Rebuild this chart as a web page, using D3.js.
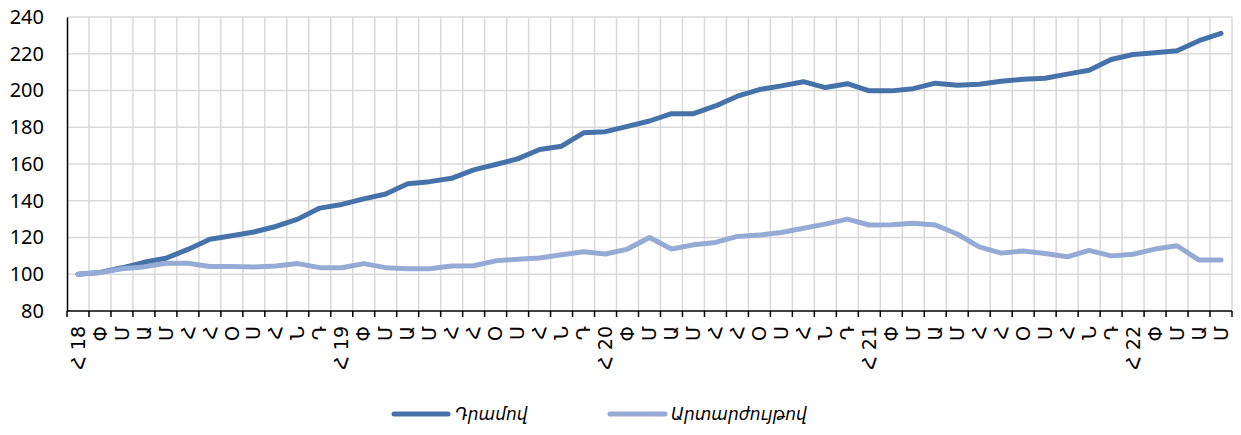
<!DOCTYPE html>
<html><head><meta charset="utf-8">
<script src="https://cdn.jsdelivr.net/npm/d3@7"></script>
<style>body{margin:0;background:#fff}svg{display:block}</style>
</head><body><svg id="c" width="1241" height="435"></svg>
<script>
const monthAbbr = ["Հ","Փ","Մ","Ա","Մ","Հ","Հ","Օ","Ս","Հ","Ն","Դ"];
const years = ["18","19","20","21","22"];
const nPoints = 53;
const seriesNames = ["Դրամով","Արտարժույթով"];
const dramValues = [100,101,103.5,106.5,108.7,113.5,119,121,123,126,130,136,138,141,143.7,149.3,
  150.4,152.2,156.8,159.7,162.8,167.9,169.7,177,177.6,180.5,183.4,187.4,187.4,191.6,196.9,200.5,202.5,204.8,
  201.6,203.7,199.8,199.8,201,204,202.9,203.4,205,206.1,206.7,208.9,211,216.9,219.6,220.5,221.6,227.1,231.1];
const fxValues = [100,100.9,103,104,106,106,104.2,104.2,104,104.5,105.8,103.6,103.5,105.8,103.6,103,
  103,104.5,104.6,107.3,108.2,108.8,110.6,112.2,111,113.7,120,113.7,116,117.3,120.6,121.3,122.7,125,
  127.3,130,126.8,127,127.7,126.8,121.9,114.9,111.5,112.7,111.3,109.5,113,110,110.9,113.7,115.5,107.7,107.7];
const yTicks = [80,100,120,140,160,180,200,220,240];
const colors = ["#4672aa","#95aad4"];

const labels = d3.range(nPoints).map(i => i % 12 === 0 ? monthAbbr[0] + " " + years[i/12] : monthAbbr[i % 12]);
const svg = d3.select("#c");
const L = 67, R = 1232, T = 17, B = 311;
const x = d3.scaleBand().domain(d3.range(nPoints)).range([L, R]).padding(0);
const y = d3.scaleLinear().domain([80, 240]).range([B, T]);

// gridlines
const g = svg.append("g");
g.selectAll(".h").data(yTicks.slice(1)).join("line")
  .attr("x1", L).attr("x2", R).attr("y1", d => y(d)).attr("y2", d => y(d))
  .attr("stroke", "#d9d9d9").attr("stroke-width", 1.5);
g.selectAll(".v").data(d3.range(1, nPoints + 1)).join("line")
  .attr("x1", d => L + d * x.bandwidth()).attr("x2", d => L + d * x.bandwidth())
  .attr("y1", T).attr("y2", B)
  .attr("stroke", "#d9d9d9").attr("stroke-width", 1.5);

// y axis
const yAxis = svg.append("g").attr("transform", `translate(${L},0)`)
  .call(d3.axisLeft(y).tickValues(yTicks).tickSize(0).tickPadding(23));
yAxis.select(".domain").attr("stroke", "#000").attr("stroke-width", 1.5);
yAxis.selectAll("text").attr("font-family", "'Noto Sans', sans-serif").attr("font-size", 20).attr("fill", "#000");

// x axis
const xa = svg.append("g").attr("transform", `translate(0,${B})`);
xa.append("line").attr("x1", L).attr("x2", R).attr("stroke", "#000").attr("stroke-width", 1.5);
xa.selectAll(".t").data(d3.range(0, nPoints + 1)).join("line")
  .attr("x1", d => L + d * x.bandwidth()).attr("x2", d => L + d * x.bandwidth())
  .attr("y1", 0).attr("y2", 6).attr("stroke", "#000").attr("stroke-width", 1.5);
xa.selectAll("text").data(d3.range(nPoints)).join("text")
  .attr("transform", d => `translate(${x(d) + x.bandwidth()/2},15) rotate(-90)`)
  .attr("text-anchor", "end").attr("dy", "0.35em")
  .attr("font-family", "'DejaVu Sans', sans-serif").attr("font-size", 19).attr("fill", "#000")
  .text(d => labels[d]);

// lines
const line = d3.line().x((d, i) => x(i) + x.bandwidth()/2).y(d => y(d));
[dramValues, fxValues].forEach((vals, si) => {
  svg.append("path").datum(vals).attr("d", line).attr("fill", "none")
    .attr("stroke", colors[si]).attr("stroke-width", 5)
    .attr("stroke-linejoin", "round").attr("stroke-linecap", "round");
});

// legend
const leg = [{x1: 394, x2: 448, tx: 455}, {x1: 610, x2: 665, tx: 671}];
leg.forEach((p, i) => {
  svg.append("line").attr("x1", p.x1).attr("x2", p.x2).attr("y1", 414).attr("y2", 414)
    .attr("stroke", colors[i]).attr("stroke-width", 5).attr("stroke-linecap", "round");
  svg.append("text").attr("x", p.tx).attr("y", 420).attr("font-family", "'DejaVu Sans', sans-serif")
    .attr("font-style", "italic").attr("font-size", 17).attr("fill", "#000").text(seriesNames[i]);
});
</script></body></html>
